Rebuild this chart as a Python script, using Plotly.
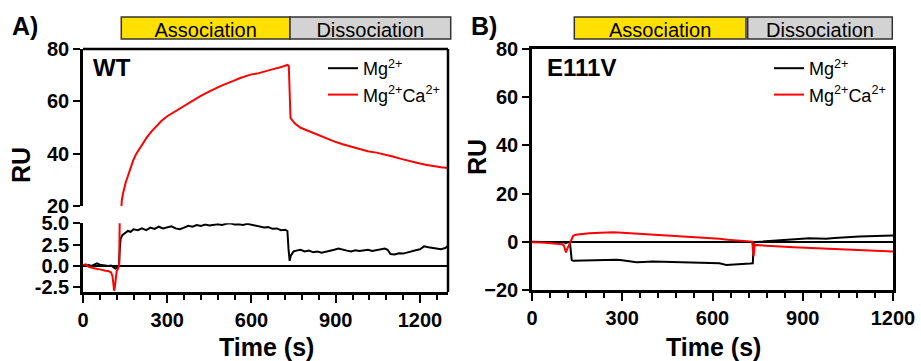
import plotly.graph_objects as go

W, H = 921, 361
def fx(p):
    return p / W
def fy(p):
    return 1 - p / H

# ---------------- data ----------------
# Panel A (WT)
a_blk_t = [0, 10, 20, 30, 40, 50, 60, 70, 80, 90, 100, 108, 115, 122, 128, 131, 134, 140, 150, 160,
           170, 180, 195, 210, 225, 240, 255, 270, 285, 300, 315, 330, 345, 360, 375, 390, 405, 420,
           435, 450, 465, 480, 495, 510, 525, 540, 555, 570, 585, 600, 615, 630, 645, 660, 675, 690,
           705, 720, 728, 732, 736, 740, 750, 760, 775, 790, 805, 820, 835, 850, 865, 880, 895, 910,
           925, 940, 955, 970, 985, 1000, 1015, 1030, 1045, 1060, 1075, 1085, 1095, 1110, 1125, 1140,
           1155, 1170, 1185, 1200, 1215, 1230, 1245, 1260, 1275, 1290, 1300]
a_blk_v = [0.0, 0.05, 0.1, 0.0, 0.2, 0.3, 0.15, 0.1, 0.05, 0.0, 0.05, -0.1, -0.3, -0.2, 0.1, 2.0, 3.2, 3.6, 3.9, 4.1,
           4.0, 4.3, 4.2, 4.4, 4.2, 4.5, 4.35, 4.6, 4.4, 4.5, 4.65, 4.4, 4.3, 4.5, 4.7, 4.6, 4.8, 4.7,
           4.85, 4.75, 4.8, 4.9, 4.8, 4.95, 5.0, 4.85, 4.9, 4.8, 4.95, 4.85, 4.7, 4.6, 4.5, 4.55, 4.35, 4.4,
           4.2, 4.25, 4.1, 2.0, 0.6, 1.2, 1.7, 1.8, 1.9, 1.7, 1.8, 1.6, 1.7, 1.55, 1.65, 1.75, 1.9, 2.05,
           1.9, 1.8, 1.7, 1.85, 1.75, 1.85, 1.9, 1.75, 1.85, 2.0, 2.05, 1.9, 1.4, 1.35, 1.5, 1.45,
           1.6, 1.7, 1.85, 1.95, 2.3, 2.2, 2.1, 2.05, 1.95, 2.1, 2.35]

a_red_t = [0, 10, 20, 30, 40, 50, 60, 70, 80, 90, 100, 105, 108, 111, 113, 116, 120, 125, 129, 132,
           135, 138, 142, 147, 152, 157, 165, 172, 179, 190, 200, 215, 228, 245, 260, 280, 300, 320,
           340, 360, 380, 400, 418, 440, 460, 480, 500, 520, 536, 560, 580, 600, 620, 640, 657, 680,
           700, 715, 728, 733, 739, 745, 755, 775, 800, 835, 865, 894, 925, 954, 985, 1014, 1045,
           1073, 1100, 1133, 1160, 1192, 1220, 1252, 1275, 1300]
a_red_v = [0.1, 0.2, -0.1, -0.2, -0.3, -0.35, -0.4, -0.5, -0.55, -0.6, -0.75, -1.2, -2.2, -2.9, -2.6, -1.5, -0.6, -0.3, 0.2, 9.0,
           20.0, 22.0, 24.5, 27.0, 29.0, 30.5, 33.0, 35.5, 37.5, 40.0, 41.8, 44.3, 46.3, 48.6, 50.4, 52.6, 54.3, 55.6,
           57.1, 58.3, 59.7, 60.9, 62.0, 63.2, 64.4, 65.3, 66.3, 67.0, 67.8, 68.9, 69.5, 70.3, 70.6, 71.3, 71.6, 72.4,
           72.9, 73.4, 73.9, 73.5, 53.7, 52.8, 51.5, 49.9, 48.8, 47.3, 45.9, 44.7, 43.6, 42.8, 41.8, 40.9, 40.4,
           39.8, 39.0, 38.0, 37.2, 36.4, 35.8, 35.1, 34.8, 34.5]

# Panel B (E111V)
b_blk_t = [0, 20, 40, 60, 80, 100, 110, 113, 118, 126, 130, 132, 137, 160, 190, 214, 240, 260, 281, 300,
           320, 347, 370, 400, 435, 470, 500, 546, 580, 623, 646, 670, 701, 725, 734, 737, 745, 767,
           790, 812, 840, 870, 900, 922, 950, 978, 1005, 1033, 1060, 1088, 1115, 1143, 1170, 1200]
b_blk_v = [0.0, 0.0, -0.1, -0.1, -0.15, -0.1, -0.3, -0.5, -0.2, -0.1, -4.0, -7.5, -7.9, -7.8, -7.9, -7.8, -7.6, -7.4, -7.5, -7.7,
           -8.1, -8.5, -8.4, -8.2, -8.3, -8.4, -8.5, -8.6, -8.7, -8.9, -9.6, -9.5, -9.3, -9.0, -8.9, -0.3, -0.1, 0.1,
           0.3, 0.55, 0.8, 1.0, 1.3, 1.5, 1.35, 1.25, 1.6, 1.9, 2.0, 2.2, 2.3, 2.5, 2.55, 2.6]

b_red_t = [0, 15, 30, 45, 60, 75, 90, 100, 106, 110, 113, 117, 121, 125, 128, 132, 137, 145, 159, 175,
           190, 214, 240, 270, 300, 325, 350, 380, 410, 435, 460, 490, 520, 546, 570, 595, 623, 650,
           679, 705, 725, 732, 734, 737, 740, 760, 790, 812, 840, 870, 900, 922, 950, 980, 1010, 1033,
           1060, 1090, 1115, 1143, 1170, 1200]
b_red_v = [-0.2, -0.1, -0.3, -0.4, -0.55, -0.6, -0.8, -1.0, -1.5, -3.0, -4.4, -3.0, -1.9, -0.8, 0.1, 1.5, 2.5, 2.9, 3.2, 3.3,
           3.5, 3.6, 3.8, 4.0, 3.8, 3.6, 3.5, 3.3, 3.1, 2.9, 2.7, 2.5, 2.2, 1.9, 1.7, 1.5, 1.25, 0.9,
           0.55, 0.35, 0.2, 0.1, -3.0, -6.0, -1.3, -1.5, -1.7, -1.9, -2.1, -2.3, -2.45, -2.6, -2.8, -3.0, -3.15, -3.3,
           -3.45, -3.55, -3.65, -3.75, -3.85, -4.0]

series_names = ["Mg<sup>2+</sup>", "Mg<sup>2+</sup>Ca<sup>2+</sup>"]
series_colors = ["#000000", "#FF0000"]
panel_titles = ["WT", "E111V"]
panel_letters = ["A)", "B)"]
phase_labels = ["Association", "Dissociation"]
a_x_ticks = [0, 300, 600, 900, 1200]
a_top_ticks = [20, 40, 60, 80]
a_bot_ticks = [-2.5, 0.0, 2.5, 5.0]
a_bot_ticktext = ["-2.5", "0.0", "2.5", "5.0"]
b_y_ticks = [-20, 0, 20, 40, 60, 80]

FONT = "Liberation Sans, Arial, sans-serif"
TICKFONT = dict(family=FONT, size=20, color="black", weight="bold")

fig = go.Figure()

# Panel A: top and bottom segments of the broken axis
for yax, show in (("y", True), ("y2", False)):
    for t, v, name, col in ((a_blk_t, a_blk_v, series_names[0], series_colors[0]),
                            (a_red_t, a_red_v, series_names[1], series_colors[1])):
        fig.add_trace(go.Scatter(x=t, y=v, xaxis="x", yaxis=yax, mode="lines",
                                 line=dict(color=col, width=2), name=name,
                                 showlegend=show, legend="legend"))
# Panel B
for t, v, name, col in ((b_blk_t, b_blk_v, series_names[0], series_colors[0]),
                        (b_red_t, b_red_v, series_names[1], series_colors[1])):
    fig.add_trace(go.Scatter(x=t, y=v, xaxis="x3", yaxis="y3", mode="lines",
                             line=dict(color=col, width=2), name=name,
                             showlegend=True, legend="legend2"))

axis_common = dict(showline=True, linecolor="black", linewidth=2.5, ticks="outside",
                   tickcolor="black", tickwidth=2, tickfont=TICKFONT, showgrid=False,
                   automargin=False)

xminor = dict(dtick=60, ticks="outside", ticklen=5, tickwidth=2, tickcolor="black", showgrid=False)

fig.update_layout(
    template="none",
    width=W, height=H,
    margin=dict(l=0, r=0, t=0, b=0),
    paper_bgcolor="white", plot_bgcolor="white",
    xaxis=dict(domain=[fx(83), fx(448)], range=[0, 1300], anchor="y2", tickvals=a_x_ticks,
               ticklen=8, minor=xminor, zeroline=False, **axis_common),
    yaxis=dict(domain=[fy(206), fy(49)], range=[20, 80], anchor="x", tickvals=a_top_ticks,
               ticklen=7, zeroline=False, **axis_common),
    yaxis2=dict(domain=[fy(292), fy(223.3)], range=[-3.05, 5.0], anchor="x", tickvals=a_bot_ticks,
                ticktext=a_bot_ticktext, ticklen=7, zeroline=True, zerolinecolor="black",
                zerolinewidth=2, **axis_common),
    xaxis3=dict(domain=[fx(532), fx(893)], range=[0, 1200], anchor="y3", tickvals=a_x_ticks,
                ticklen=8, minor=xminor, zeroline=False, mirror=True, **axis_common),
    yaxis3=dict(domain=[fy(290), fy(49)], range=[-20, 80], anchor="x3", tickvals=b_y_ticks,
                ticklen=7, zeroline=True, zerolinecolor="black", zerolinewidth=2, mirror=True,
                **axis_common),
    legend=dict(x=fx(323), y=fy(50), xanchor="left", yanchor="top", bgcolor="rgba(0,0,0,0)",
                font=dict(family=FONT, size=18, color="black"), tracegroupgap=0),
    legend2=dict(x=fx(769), y=fy(50), xanchor="left", yanchor="top", bgcolor="rgba(0,0,0,0)",
                 font=dict(family=FONT, size=18, color="black"), tracegroupgap=0),
    showlegend=True,
)

# frame of panel A (top and right border, the left side is the broken axis)
fig.add_shape(type="line", xref="paper", yref="paper", x0=fx(83), x1=fx(448), y0=fy(49), y1=fy(49),
              line=dict(color="black", width=2.5))
fig.add_shape(type="line", xref="paper", yref="paper", x0=fx(448), x1=fx(448), y0=fy(292), y1=fy(49),
              line=dict(color="black", width=2.5))

# phase bars
bars = [
    (121.3, 290, "#FFE000", phase_labels[0]),
    (290, 450.7, "#D3D3D3", phase_labels[1]),
    (574.3, 746, "#FFE000", phase_labels[0]),
    (747.7, 892.3, "#D3D3D3", phase_labels[1]),
]
for x0, x1, col, lab in bars:
    fig.add_shape(type="rect", xref="paper", yref="paper", x0=fx(x0), x1=fx(x1), y0=fy(39), y1=fy(17),
                  fillcolor=col, line=dict(color="#333333", width=1.5),
                  label=dict(text=lab, font=dict(family=FONT, size=20, color="black")))

def add_text(text, x, y, size, angle=0, bold=True):
    t = f"<b>{text}</b>" if bold else text
    fig.add_annotation(text=t, x=fx(x), y=fy(y), xref="paper", yref="paper", showarrow=False,
                       xanchor="center", yanchor="middle", textangle=angle,
                       font=dict(family=FONT, size=size, color="black"))

add_text(panel_letters[0], 25, 26, 25)
add_text(panel_letters[1], 484, 26, 25)
add_text(panel_titles[0], 112, 68, 24)
add_text(panel_titles[1], 581, 68, 24)
add_text("RU", 21, 165, 25, angle=-90)
add_text("RU", 477, 157, 25, angle=-90)
add_text("Time (s)", 266, 347, 25)
add_text("Time (s)", 713, 347, 25)

fig.write_html("out.html")
